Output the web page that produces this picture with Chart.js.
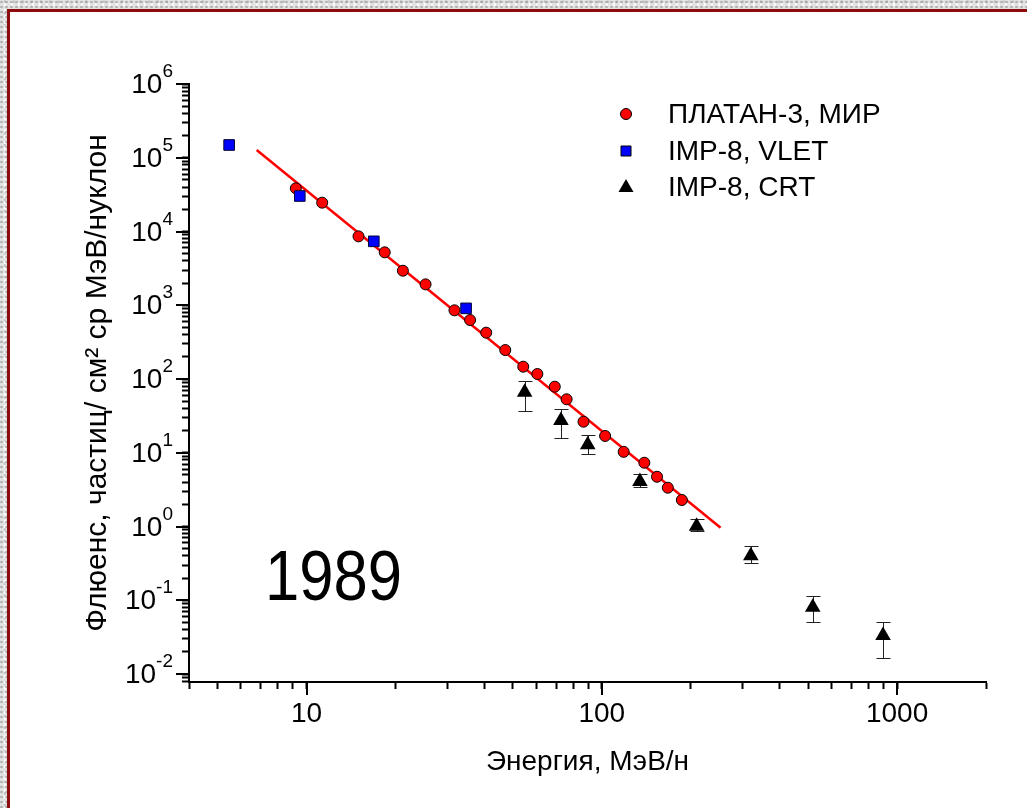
<!DOCTYPE html>
<html>
<head>
<meta charset="utf-8">
<script src="https://cdn.jsdelivr.net/npm/chart.js@4.4.1/dist/chart.umd.min.js"></script>
<style>
  html, body { margin: 0; padding: 0; overflow: hidden; background: #fff; }
  body { width: 1027px; height: 808px; position: relative; }
  .paper {
    position: absolute;
    background-color: #e3e3e3;
    background-image:
      radial-gradient(circle at 30% 40%, rgba(140,140,140,0.55) 0 1px, transparent 1.6px),
      radial-gradient(circle at 70% 75%, rgba(255,255,255,0.9) 0 1px, transparent 1.6px),
      radial-gradient(circle at 55% 15%, rgba(165,165,165,0.5) 0 1px, transparent 1.6px);
    background-size: 5px 5px, 7px 6px, 9px 11px;
  }
  #paperTop { left: 0; top: 0; width: 1027px; height: 9px; }
  #paperLeft { left: 0; top: 0; width: 7px; height: 808px; }
  .frame { position: absolute; background: #8e0b0b; }
  #frameTop { left: 7px; top: 9px; width: 1020px; height: 3px; }
  #frameLeft { left: 7px; top: 9px; width: 3px; height: 799px; }
  #chart { position: absolute; left: 0; top: 0; }
</style>
</head>
<body>
<div class="paper" id="paperTop"></div>
<div class="paper" id="paperLeft"></div>
<div class="frame" id="frameTop"></div>
<div class="frame" id="frameLeft"></div>
<canvas id="chart" width="1027" height="808"></canvas>
<script>
// ПЛАТАН-3 on МИР
const platanEnergy = [9.2, 11.3, 15.0, 18.4, 21.2, 25.3, 31.7, 35.8, 40.6, 47.1, 54.2,
  60.5, 69.3, 76.0, 86.7, 102.6, 118.6, 139.3, 153.8, 167.3, 186.7];
const platanFluence = [38500, 24600, 8600, 5220, 2940, 1920, 854, 631, 425, 247, 147,
  117, 78.7, 53.1, 26.4, 16.9, 10.3, 7.33, 4.73, 3.36, 2.29];

// IMP-8 VLET
const vletEnergy = [5.47, 9.49, 16.9, 34.7];
const vletFluence = [149000, 30300, 7360, 908];

// IMP-8 CRT, with error bar limits
const crtEnergy = [54.8, 72.7, 89.6, 134.6, 209.4, 319.6, 518, 896];
const crtFluence = [66.1, 27.4, 12.8, 4.08, 1.01, 0.403, 0.0804, 0.0332];
const crtLow = [37.2, 15.8, 9.6, 3.47, 0.87, 0.323, 0.0502, 0.0166];
const crtHigh = [94.8, 38.8, 17.2, 5.1, 1.25, 0.544, 0.114, 0.0512];

// power-law fit
const fitEnergy = [6.78, 252.5];
const fitFluence = [127500, 0.964];

// axes
const xRange = [4, 2000];
const yRange = [0.0078, 1e6];
const xLabelValues = [10, 100, 1000];
const yLabelExponents = [-2, -1, 0, 1, 2, 3, 4, 5, 6];

const seriesNames = ['ПЛАТАН-3, МИР', 'IMP-8, VLET', 'IMP-8, CRT'];
const yearText = '1989';

const FONT = "'Liberation Sans', Arial, sans-serif";
Chart.defaults.font.family = FONT;
Chart.defaults.color = '#000';

const pts = (xs, ys) => xs.map((x, i) => ({ x: x, y: ys[i] }));

// 1..9 x 10^n ticks, decades flagged as major
function logTicks(lo, hi) {
  const out = [];
  for (let e = Math.floor(Math.log10(lo)); e <= Math.ceil(Math.log10(hi)); e++) {
    for (let m = 1; m < 10; m++) {
      const v = +(m * Math.pow(10, e)).toPrecision(6);
      if (v >= lo * 0.999 && v <= hi * 1.001) out.push({ value: v, major: m === 1 });
    }
  }
  return out;
}
const isDecade = v => Math.abs(Math.log10(v) - Math.round(Math.log10(v))) < 1e-6;

// vertical error bars for the CRT points, drawn under the markers
const errorBars = {
  id: 'errorBars',
  beforeDatasetsDraw(chart) {
    const { ctx, scales: { x, y } } = chart;
    ctx.save();
    ctx.strokeStyle = '#222';
    ctx.lineWidth = 1;
    crtEnergy.forEach((e, i) => {
      const px = Math.round(x.getPixelForValue(e)) + 0.5;
      const y1 = Math.round(y.getPixelForValue(crtHigh[i])) + 0.5;
      const y2 = Math.round(y.getPixelForValue(crtLow[i])) + 0.5;
      ctx.beginPath();
      ctx.moveTo(px, y1); ctx.lineTo(px, y2);
      ctx.moveTo(px - 7, y1); ctx.lineTo(px + 7, y1);
      ctx.moveTo(px - 7, y2); ctx.lineTo(px + 7, y2);
      ctx.stroke();
    });
    ctx.restore();
  }
};

// longer marks at decades, 10^n labels on y, legend and year caption
const decorations = {
  id: 'decorations',
  afterDraw(chart) {
    const { ctx, scales: { x, y } } = chart;
    ctx.save();
    ctx.strokeStyle = '#000';
    ctx.lineWidth = 2;
    ctx.beginPath();
    x.ticks.filter(t => t.major).forEach(t => {
      const px = Math.round(x.getPixelForValue(t.value));
      ctx.moveTo(px, x.top); ctx.lineTo(px, x.top + 13);
    });
    y.ticks.filter(t => t.major).forEach(t => {
      const py = Math.round(y.getPixelForValue(t.value));
      ctx.moveTo(y.right, py); ctx.lineTo(y.right - 13, py);
    });
    ctx.stroke();

    ctx.fillStyle = '#000';
    ctx.textBaseline = 'alphabetic';
    ctx.textAlign = 'left';
    yLabelExponents.forEach(n => {
      const py = y.getPixelForValue(Math.pow(10, n));
      const exp = n < 0 ? '-' + (-n) : String(n);
      ctx.font = '19px ' + FONT;
      const we = ctx.measureText(exp).width;
      ctx.font = '28px ' + FONT;
      const wb = ctx.measureText('10').width;
      const right = y.right - 16;
      ctx.fillText('10', right - we - wb, py + 9);
      ctx.font = '19px ' + FONT;
      ctx.fillText(exp, right - we, py - 7);
    });

    // legend
    const lx = 626, tx = 668, rows = [114, 151, 187];
    ctx.font = '28px ' + FONT;
    ctx.textBaseline = 'middle';
    chart.data.datasets.slice(0, 3).forEach((ds, i) => {
      const cy = rows[i];
      ctx.fillStyle = ds.backgroundColor;
      ctx.strokeStyle = '#000';
      ctx.lineWidth = 1;
      ctx.beginPath();
      if (ds.pointStyle === 'circle') {
        ctx.arc(lx, cy, 5.5, 0, Math.PI * 2);
      } else if (ds.pointStyle === 'rect') {
        ctx.rect(lx - 5, cy - 5, 10, 10);
      } else {
        ctx.moveTo(lx, cy - 8); ctx.lineTo(lx + 7.5, cy + 5); ctx.lineTo(lx - 7.5, cy + 5); ctx.closePath();
      }
      ctx.fill();
      if (ds.pointStyle !== 'triangle') ctx.stroke();
      ctx.fillStyle = '#000';
      ctx.fillText(ds.label, tx, cy + 1);
    });

    // year caption, slightly condensed
    ctx.font = '70px ' + FONT;
    ctx.textBaseline = 'alphabetic';
    ctx.translate(265, 600);
    ctx.scale(0.88, 1);
    ctx.fillText(yearText, 0, 0);
    ctx.restore();
  }
};

const axisGrid = { drawOnChartArea: false, drawTicks: true, tickLength: 7, tickWidth: 2, tickColor: '#000' };
const axisBorder = { display: true, color: '#000', width: 2 };

new Chart(document.getElementById('chart'), {
  type: 'scatter',
  data: {
    datasets: [
      {
        label: seriesNames[0], data: pts(platanEnergy, platanFluence), order: 1,
        pointStyle: 'circle', pointRadius: 5.5, backgroundColor: '#ff0000', borderColor: '#000', borderWidth: 1
      },
      {
        label: seriesNames[1], data: pts(vletEnergy, vletFluence), order: 0,
        pointStyle: 'rect', pointRadius: 7.5, backgroundColor: '#0000ff', borderColor: '#000033', borderWidth: 1
      },
      {
        label: seriesNames[2], data: pts(crtEnergy, crtFluence), order: 2,
        pointStyle: 'triangle', pointRadius: 9, backgroundColor: '#000', borderColor: '#000', borderWidth: 0
      },
      {
        label: 'fit', data: pts(fitEnergy, fitFluence), order: 3, showLine: true,
        pointRadius: 0, borderColor: '#ff0000', borderWidth: 2.5, backgroundColor: '#ff0000'
      }
    ]
  },
  options: {
    responsive: false,
    animation: false,
    layout: { padding: { left: 80, top: 84, right: 41, bottom: 29 } },
    plugins: { legend: { display: false }, tooltip: { enabled: false } },
    scales: {
      x: {
        type: 'logarithmic', position: 'bottom', min: xRange[0], max: xRange[1],
        afterBuildTicks: s => { s.ticks = logTicks(xRange[0], xRange[1]); },
        afterFit: s => { s.height = 97; },
        grid: axisGrid, border: axisBorder,
        ticks: {
          autoSkip: false, maxRotation: 0, padding: 8, font: { size: 28 },
          callback: v => (isDecade(v) && xLabelValues.includes(Math.round(v))) ? String(Math.round(v)) : ''
        },
        title: { display: true, text: 'Энергия, МэВ/н', font: { size: 28 }, padding: 0 }
      },
      y: {
        type: 'logarithmic', position: 'left', min: yRange[0], max: yRange[1],
        afterBuildTicks: s => { s.ticks = logTicks(yRange[0], yRange[1]); },
        afterFit: s => { s.width = 109; },
        grid: axisGrid, border: axisBorder,
        ticks: { display: false, autoSkip: false },
        title: { display: true, text: 'Флюенс, частиц/ см² ср МэВ/нуклон', font: { size: 30 }, padding: 0 }
      }
    }
  },
  plugins: [errorBars, decorations]
});
</script>
</body>
</html>
